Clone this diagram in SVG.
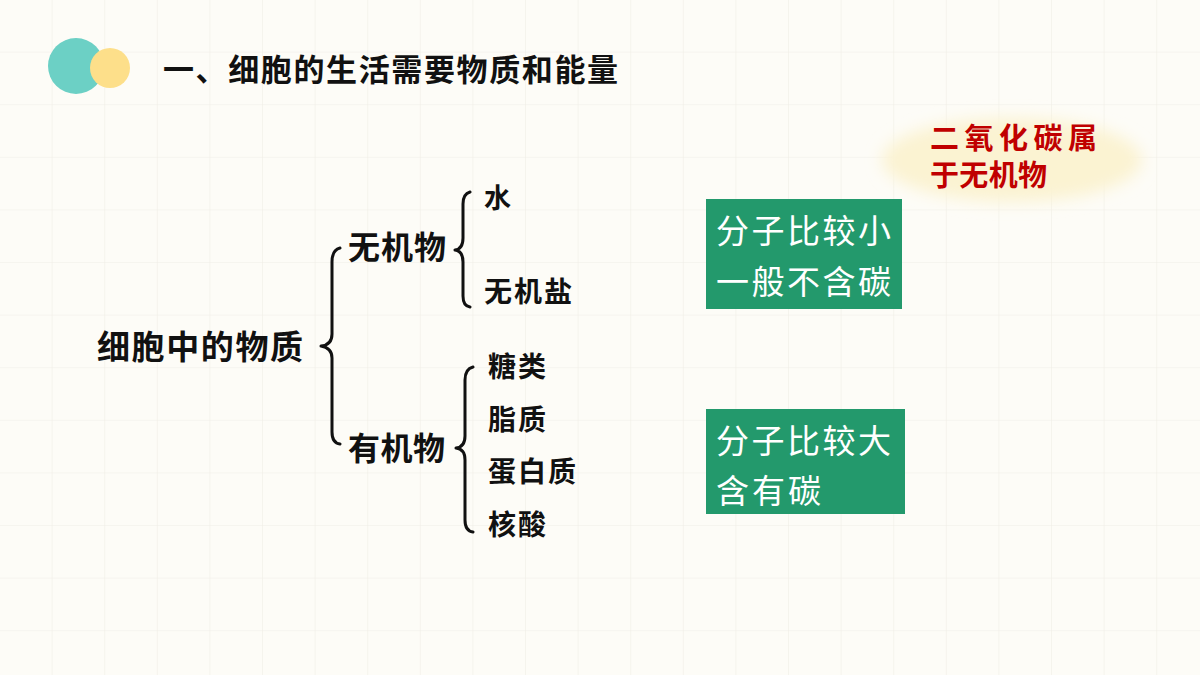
<svg xmlns="http://www.w3.org/2000/svg" width="1200" height="675" viewBox="0 0 1200 675">
<defs>
<pattern id="grid" x="0" y="0" width="52.6" height="52.6" patternUnits="userSpaceOnUse">
<path d="M52.6 0V52.6M0 52.6H52.6" fill="none" stroke="#F0EEE7" stroke-width="1.2"/>
</pattern>
<filter id="blur" x="-30%" y="-60%" width="160%" height="220%"><feGaussianBlur stdDeviation="8"/></filter>
<style>
.k{font-family:"Noto Sans CJK SC","Liberation Sans",sans-serif;fill:#111;}
.b{font-weight:bold;}
.w{font-family:"Noto Sans CJK SC","Liberation Sans",sans-serif;fill:#fff;font-size:33px;}
.r{font-family:"Noto Sans CJK SC","Liberation Sans",sans-serif;fill:#C00000;font-weight:bold;font-size:29px;}
.br{fill:none;stroke:#111;stroke-width:3;stroke-linecap:round;stroke-linejoin:round;}
.box{fill:#23996C;}
</style>
</defs>
<rect width="1200" height="675" fill="#FDFCF7"/>
<rect width="1200" height="675" fill="url(#grid)"/>
<g id="header">
<circle cx="76" cy="66" r="28" fill="#6CD0C5"/>
<circle cx="110" cy="68" r="20" fill="#FDDF8A"/>
<text class="k b" x="163" y="81" font-size="31" textLength="455">一、细胞的生活需要物质和能量</text>
</g>
<g id="callout">
<ellipse cx="1012" cy="160" rx="130" ry="42" fill="#FBF3D2" filter="url(#blur)"/>
<text class="r" x="930" y="149" textLength="167">二氧化碳属</text>
<text class="r" x="930" y="186" textLength="117">于无机物</text>
</g>
<g id="connectors">
<path class="br" d="M340 248 Q332 250 332 262 V334 Q332 345 321 346 Q332 348 332 358 V432 Q332 443 340 444"/>
<path class="br" d="M470 192 Q463 194 463 204 V238 Q463 249 455 250 Q463 251 463 262 V296 Q463 306 470 307"/>
<path class="br" d="M473 367 Q465 369 465 380 V436 Q465 447 456 448 Q465 449 465 460 V520 Q465 531 473 532"/>
</g>
<g id="root"><text class="k b" x="97" y="359" font-size="33" textLength="206">细胞中的物质</text></g>
<g id="inorganic"><text class="k b" x="348" y="259" font-size="32" textLength="98">无机物</text></g>
<g id="organic"><text class="k b" x="348" y="460" font-size="32" textLength="97">有机物</text></g>
<g id="water"><text class="k b" x="484" y="208" font-size="27">水</text></g>
<g id="salt"><text class="k b" x="484" y="302" font-size="28" textLength="88">无机盐</text></g>
<g id="sugar"><text class="k b" x="488" y="377" font-size="28" textLength="58">糖类</text></g>
<g id="lipid"><text class="k b" x="488" y="430" font-size="28" textLength="58">脂质</text></g>
<g id="protein"><text class="k b" x="488" y="482" font-size="28" textLength="88">蛋白质</text></g>
<g id="nucleic"><text class="k b" x="488" y="535" font-size="28" textLength="58">核酸</text></g>
<g id="box1">
<rect class="box" x="706" y="199" width="196" height="110"/>
<text class="w" x="716" y="243" textLength="175">分子比较小</text>
<text class="w" x="716" y="294" textLength="175">一般不含碳</text>
</g>
<g id="box2">
<rect class="box" x="706" y="409" width="199" height="105"/>
<text class="w" x="716" y="453" textLength="175">分子比较大</text>
<text class="w" x="716" y="503" textLength="105">含有碳</text>
</g>
</svg>
